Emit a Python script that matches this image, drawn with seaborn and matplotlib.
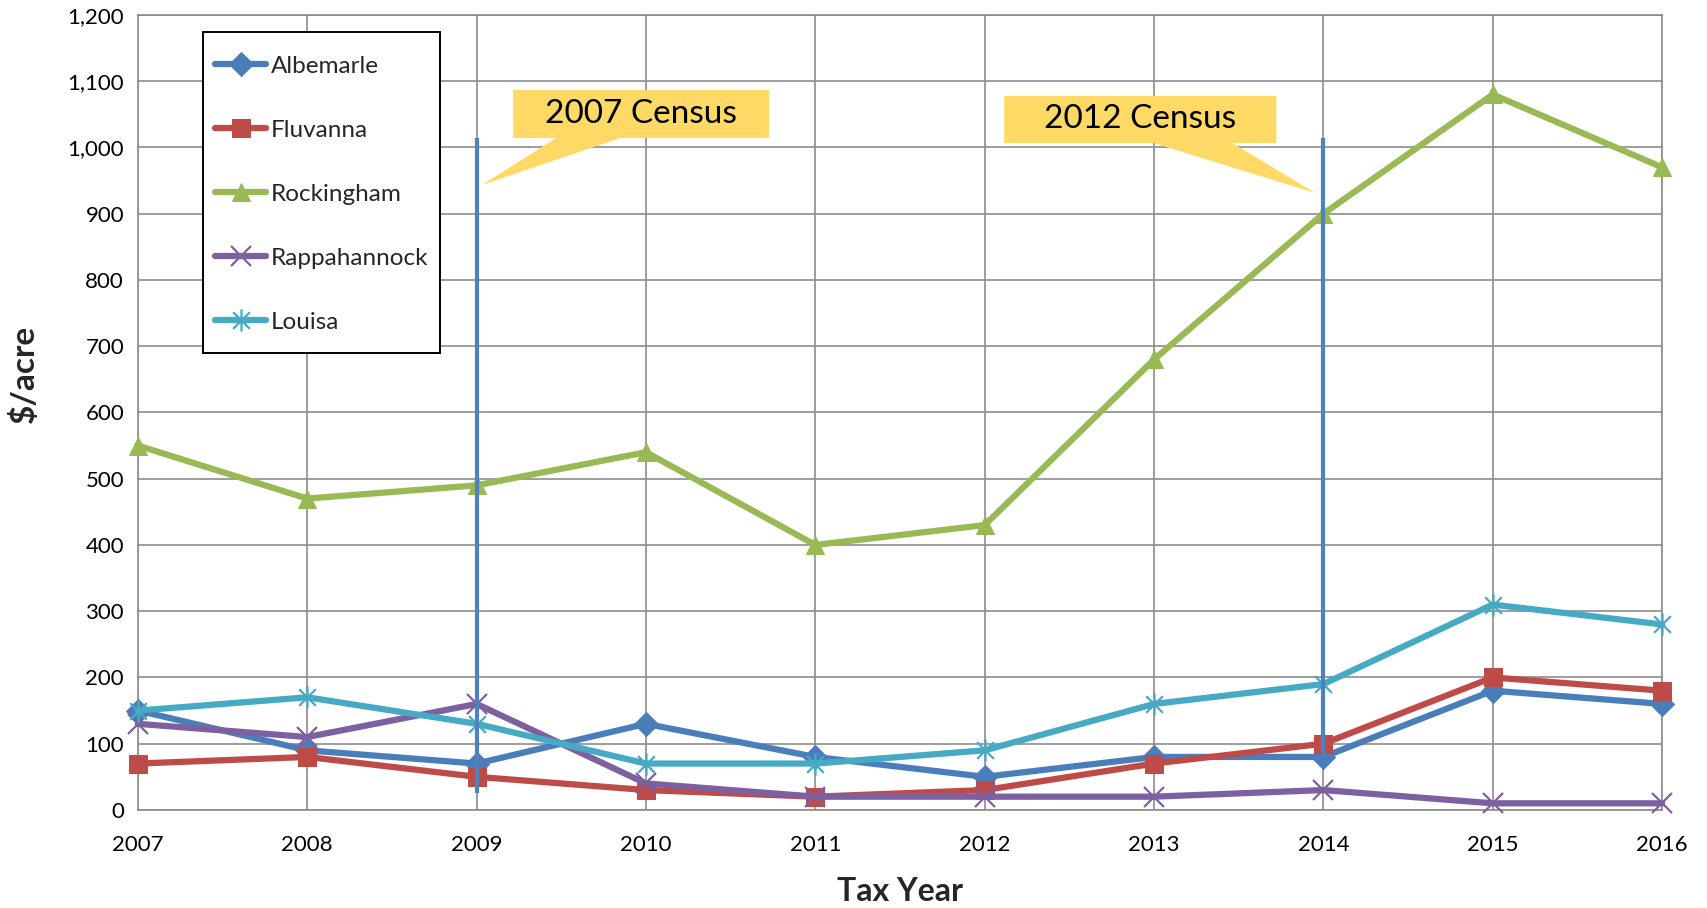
import numpy as np
import pandas as pd
import matplotlib
matplotlib.use("Agg")
import matplotlib.pyplot as plt
from matplotlib.patches import Polygon, Rectangle
from matplotlib.path import Path
from matplotlib.ticker import FuncFormatter
import seaborn as sns

# ---- data ----
years = [2007, 2008, 2009, 2010, 2011, 2012, 2013, 2014, 2015, 2016]
albemarle = [150, 90, 70, 130, 80, 50, 80, 80, 180, 160]
fluvanna = [70, 80, 50, 30, 20, 30, 70, 100, 200, 180]
rockingham = [550, 470, 490, 540, 400, 430, 680, 900, 1080, 970]
rappahannock = [130, 110, 160, 40, 20, 20, 20, 30, 10, 10]
louisa = [150, 170, 130, 70, 70, 90, 160, 190, 310, 280]
series_names = ["Albemarle", "Fluvanna", "Rockingham", "Rappahannock", "Louisa"]
series_values = [albemarle, fluvanna, rockingham, rappahannock, louisa]

census_years = [2009, 2014]
census_bottoms = [26, 78]
census_top = 1014
census_labels = ["2007 Census", "2012 Census"]

# ---- style ----
sns.set_style("white")
plt.rcParams["font.family"] = ["Lato", "DejaVu Sans"]

star = Path([(0, -1), (0, 1), (-0.75, -0.75), (0.75, 0.75), (-0.75, 0.75), (0.75, -0.75)],
            [Path.MOVETO, Path.LINETO, Path.MOVETO, Path.LINETO, Path.MOVETO, Path.LINETO])

colors = ["#4A7EBB", "#BE4B48", "#98B954", "#7D60A0", "#46AAC5"]
markers = ["D", "s", "^", "x", star]
msizes = [12, 13, 13, 14, 16]

fig = plt.figure(figsize=(17.07, 9.08), dpi=100)
ax = fig.add_axes([0.0808, 0.108, 0.9737 - 0.0808, 0.9835 - 0.108])

df = pd.DataFrame({"year": years})
for name, vals, c, m, ms in zip(series_names, series_values, colors, markers, msizes):
    df[name] = vals
    filled = isinstance(m, str) and m in ("D", "s", "^")
    kw = dict(markeredgecolor=c, markerfacecolor=c) if filled else dict(markeredgewidth=1.6, markeredgecolor=c)
    sns.lineplot(data=df, x="year", y=name, ax=ax, color=c, marker=m, markersize=ms,
                 linewidth=4.5, label=name, clip_on=False, zorder=3, **kw)

# vertical census lines
ax.vlines(census_years, census_bottoms, census_top, color="#4F81BD", linewidth=3.0, zorder=4)

# callouts (box + pointer) in data coordinates
callout_specs = [
    # box x0, x1, y0, y1, base x0, base x1, tip x, tip y
    (2009.215, 2010.727, 1014.3, 1086.8, 2009.469, 2009.847, 2009.032, 943.4),
    (2012.115, 2013.722, 1006.8, 1077.7, 2012.995, 2013.462, 2013.952, 931.3),
]
for (x0, x1, y0, y1, b0, b1, tx, ty), lab in zip(callout_specs, census_labels):
    poly = Polygon([(x0, y0), (b0, y0), (tx, ty), (b1, y0), (x1, y0), (x1, y1), (x0, y1)],
                   closed=True, facecolor="#FFD966", edgecolor="none", zorder=5)
    ax.add_patch(poly)
    ax.text((x0 + x1) / 2, (y0 + y1) / 2, lab, ha="center", va="center",
            fontsize=24, color="black", zorder=6)

# axes
ax.set_xlim(2007, 2016)
ax.set_ylim(0, 1200)
ax.set_xticks(years)
ax.set_xticklabels([str(y) for y in years])
ax.set_yticks(np.arange(0, 1201, 100))
ax.yaxis.set_major_formatter(FuncFormatter(lambda v, p: f"{int(v):,}"))
grid_c = "#8C8C8C"
ax.grid(True, color=grid_c, linewidth=1.2, zorder=0)
ax.set_axisbelow(True)
for s in ax.spines.values():
    s.set_color(grid_c)
    s.set_linewidth(1.2)
ax.tick_params(axis="both", which="major", direction="out", length=6, width=1.2,
               color=grid_c, labelsize=16, labelcolor="black")
ax.tick_params(axis="y", pad=4)
ax.tick_params(axis="x", pad=12)

ax.set_xlabel("Tax Year", fontsize=23, fontweight="bold")
ax.set_ylabel(r"\$/acre", fontsize=24, fontweight="bold")
ax.xaxis.label.set_va("center")
ax.yaxis.label.set_va("center")
ax.xaxis.set_label_coords(0.5, -0.102)
ax.yaxis.set_label_coords(-0.0748, 0.548)

# legend: white box with black border, entries placed inside
box = Rectangle((0.0427, 0.575), 0.198 - 0.0427, 0.9786 - 0.575, transform=ax.transAxes,
                facecolor="white", edgecolor="black", linewidth=1.4, zorder=6)
ax.add_patch(box)
leg = ax.legend(loc="upper left", bbox_to_anchor=(0.0506, 0.949), borderaxespad=0,
                fontsize=17.5, frameon=False,
                labelspacing=1.77, handlelength=2.1, handletextpad=0.2,
                borderpad=0.0, numpoints=1)
leg.set_zorder(7)

fig.savefig("out.png", dpi=100)
